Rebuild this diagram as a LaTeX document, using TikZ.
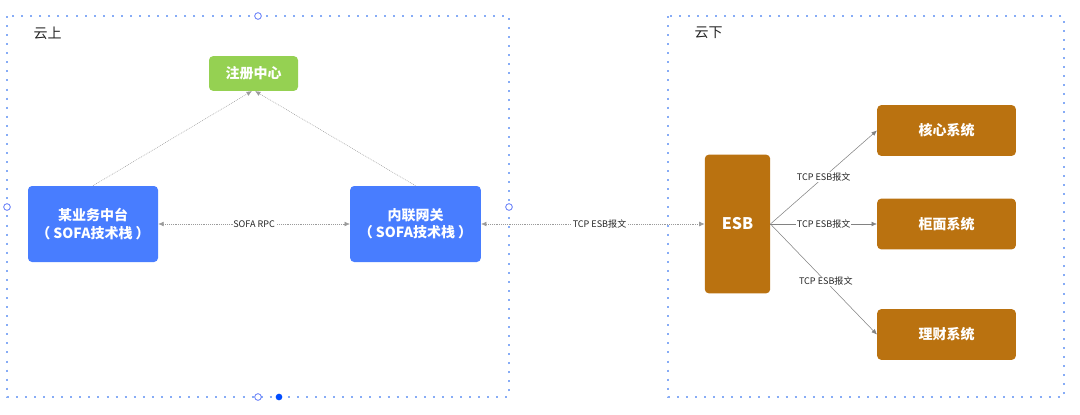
\documentclass[tikz,border=0pt]{standalone}
\usepackage{fontspec}
\setmainfont{Noto Sans CJK SC}
\usetikzlibrary{arrows.meta}
\definecolor{zhuce}{RGB}{149,209,82}
\definecolor{sofa}{RGB}{72,125,255}
\definecolor{esb}{RGB}{186,114,16}
\definecolor{kuang}{RGB}{135,172,246}
\definecolor{xian}{RGB}{130,130,130}
\tikzset{
  box/.style={rounded corners=3pt,text=white,font=\bfseries\fontsize{10.5}{13}\selectfont,align=center,inner sep=0pt},
  yun/.style={draw=kuang,line width=1pt,dash pattern=on 1.5pt off 5.3pt},
  handle/.style={circle,draw=kuang!70!blue,fill=white,line width=0.6pt,inner sep=0pt,minimum size=5pt},
  lianxian/.style={draw=xian!80,line width=0.4pt,dash pattern=on 0.6pt off 0.8pt},
  shixian/.style={draw=xian,line width=0.4pt},
  biaoqian/.style={font=\fontsize{6.8}{8}\selectfont,text=black!85,fill=white,inner sep=0.5pt}
}
\begin{document}
\begin{tikzpicture}[x=0.75pt,y=-0.75pt,>={Latex[length=4pt,width=3.5pt]}]
  \useasboundingbox (0,0) rectangle (1080,414);

  % 云上 / 云下 虚线框
  \draw[yun] (7,16) rectangle (509,397);
  \draw[yun] (668,16) rectangle (1064,397);
  \node[anchor=west,font=\fontsize{10.5}{12}\selectfont,text=black!85] (yunshang) at (29,33) {云上};
  \node[anchor=west,font=\fontsize{10.5}{12}\selectfont,text=black!85] (yunxia) at (690,33) {云下};

  % 方框
  \node[box,fill=zhuce,minimum width=66.75pt,minimum height=26pt] (zhuce) at (253.5,73.5) {注册中心};
  \node[box,fill=sofa,minimum width=97.5pt,minimum height=57pt] (zhongtai) at (93,224) {某业务中台\\（ SOFA技术栈 ）};
  \node[box,fill=sofa,minimum width=98pt,minimum height=57pt] (wangguan) at (415.5,224) {内联网关\\（ SOFA技术栈 ）};
  \node[box,fill=esb,minimum width=49pt,minimum height=104pt,font=\bfseries\fontsize{12}{14}\selectfont] (esb) at (737.5,224) {ESB};
  \node[box,fill=esb,minimum width=104pt,minimum height=38pt] (hexin) at (946.5,130.5) {核心系统};
  \node[box,fill=esb,minimum width=104pt,minimum height=38pt] (guimian) at (946.5,224) {柜面系统};
  \node[box,fill=esb,minimum width=104pt,minimum height=38pt] (licai) at (946.5,334.5) {理财系统};

  % 注册
  \draw[lianxian,->] (zhongtai.north) -- ([xshift=-1.2pt]zhuce.south);
  \draw[lianxian,->] (wangguan.north) -- ([xshift=1.2pt]zhuce.south);

  % 调用
  \draw[lianxian,<->] (zhongtai) -- node[biaoqian] {SOFA RPC} (wangguan);
  \draw[lianxian,<->] (wangguan) -- node[biaoqian,pos=0.53] {TCP ESB报文} (esb);
  \draw[shixian,->] (esb.east) -- node[biaoqian,pos=0.5] {TCP ESB报文} (hexin.west);
  \draw[shixian,->] (esb.east) -- node[biaoqian] {TCP ESB报文} (guimian.west);
  \draw[shixian,->] (esb.east) -- node[biaoqian,pos=0.52] {TCP ESB报文} (licai.west);

  % 选中框的控制点
  \node[handle] (h1) at (258,16) {};
  \node[handle] (h2) at (7,207) {};
  \node[handle] (h3) at (509,207) {};
  \node[handle] (h4) at (258,397) {};
  \node[circle,fill=blue!70!cyan,inner sep=0pt,minimum size=5pt] (h5) at (279,397) {};
\end{tikzpicture}
\end{document}
